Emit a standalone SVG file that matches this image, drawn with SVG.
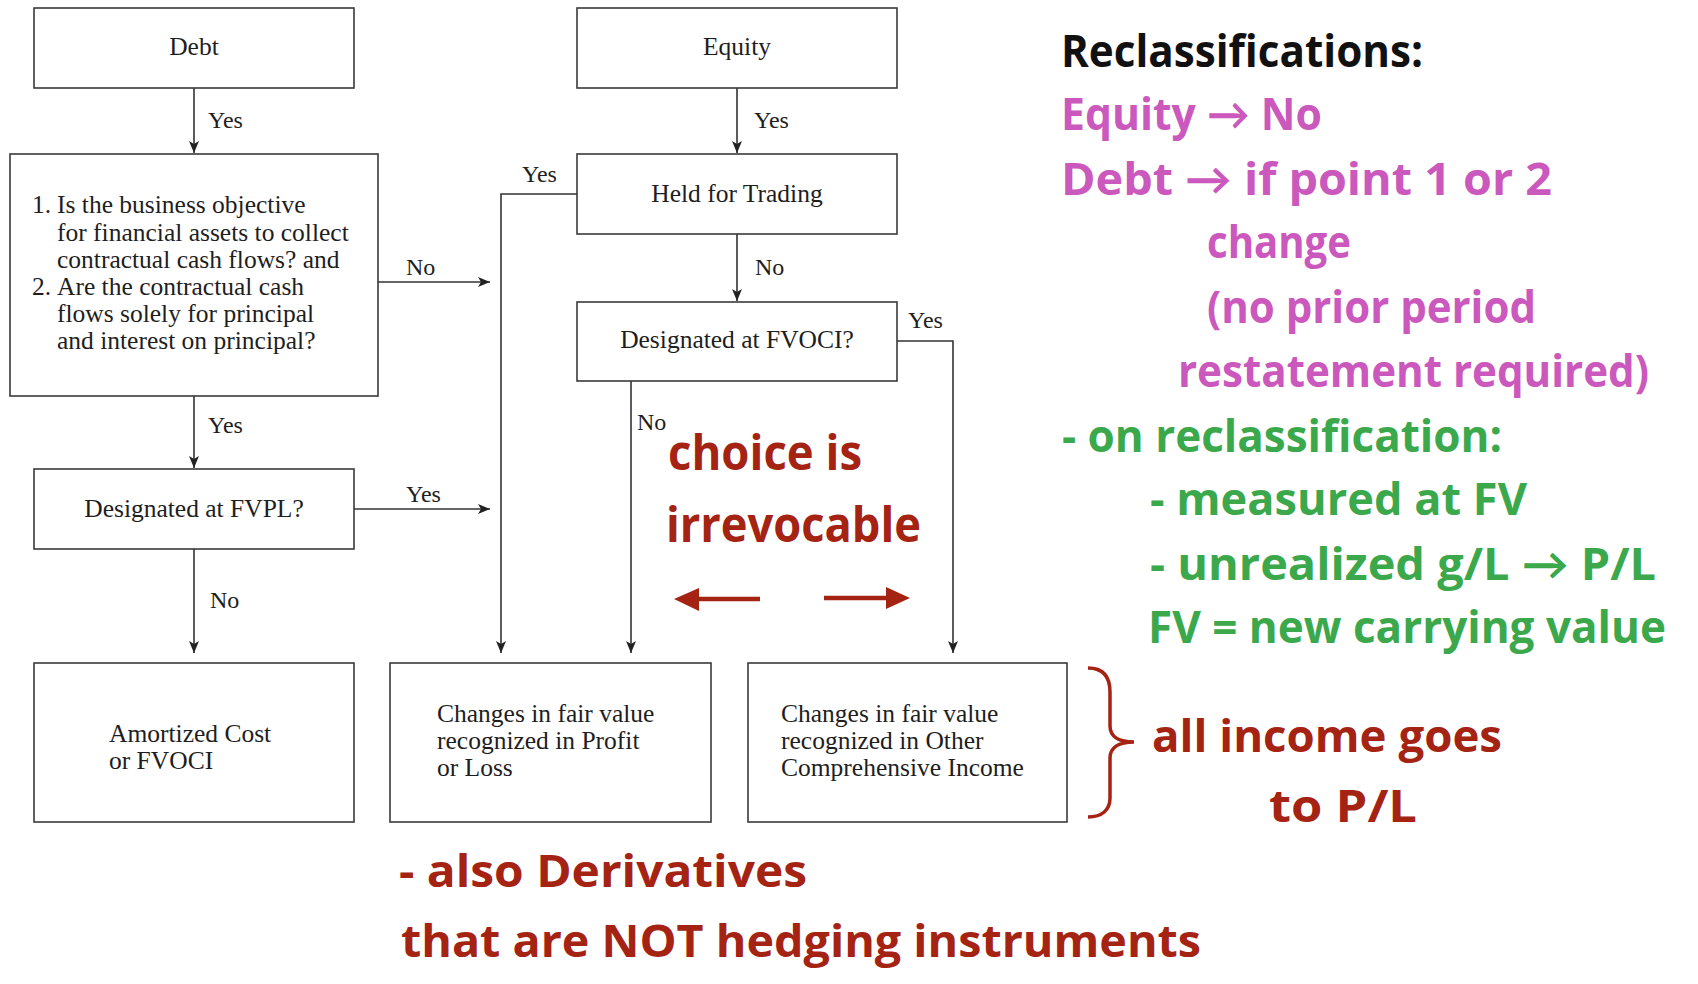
<svg xmlns="http://www.w3.org/2000/svg" width="1698" height="984" viewBox="0 0 1698 984">
<defs>
<style>
.box{fill:#fff;stroke:#3a3a3a;stroke-width:1.6}
.t{font-family:"Liberation Serif","Times New Roman",serif;font-size:25.5px;fill:#1e1e1e}
.lbl{font-family:"Liberation Serif","Times New Roman",serif;font-size:24px;fill:#1e1e1e}
.c{text-anchor:middle}
.conn{fill:none;stroke:#333;stroke-width:1.6}
.hw{font-family:"Open Sans","Lato","DejaVu Sans",sans-serif;font-weight:700;font-size:44px}
.blk{fill:#111}
.pink{fill:#CB58BC}
.green{fill:#3CA84C}
.red{fill:#A52313}
</style>
<marker id="ah" viewBox="0 0 12 10" refX="12" refY="5" markerWidth="12" markerHeight="10" markerUnits="userSpaceOnUse" orient="auto">
<path d="M0,0 L12,5 L0,10 L3,5 Z" fill="#222"/>
</marker>
</defs>
<rect width="1698" height="984" fill="#fff"/>

<g id="connectors">
<path class="conn" d="M194,88 V153" marker-end="url(#ah)"/>
<path class="conn" d="M194,396 V468" marker-end="url(#ah)"/>
<path class="conn" d="M194,549 V653" marker-end="url(#ah)"/>
<path class="conn" d="M378,282 H490" marker-end="url(#ah)"/>
<path class="conn" d="M354,509 H490" marker-end="url(#ah)"/>
<path class="conn" d="M577,194 H501 V653" marker-end="url(#ah)"/>
<path class="conn" d="M737,88 V153" marker-end="url(#ah)"/>
<path class="conn" d="M737,234 V301" marker-end="url(#ah)"/>
<path class="conn" d="M631,381 V653" marker-end="url(#ah)"/>
<path class="conn" d="M897,341 H953 V653" marker-end="url(#ah)"/>
<text class="lbl" x="208" y="128">Yes</text>
<text class="lbl" x="754" y="128">Yes</text>
<text class="lbl" x="522" y="182">Yes</text>
<text class="lbl" x="406" y="275">No</text>
<text class="lbl" x="755" y="275">No</text>
<text class="lbl" x="908" y="328">Yes</text>
<text class="lbl" x="208" y="433">Yes</text>
<text class="lbl" x="637" y="430">No</text>
<text class="lbl" x="406" y="502">Yes</text>
<text class="lbl" x="210" y="608">No</text>
</g>

<g id="debt">
<rect class="box" x="34" y="8" width="320" height="80"/>
<text class="t c" x="194" y="55">Debt</text>
</g>
<g id="equity">
<rect class="box" x="577" y="8" width="320" height="80"/>
<text class="t c" x="737" y="55">Equity</text>
</g>
<g id="question">
<rect class="box" x="10" y="154" width="368" height="242"/>
<text class="t" y="213"><tspan x="32">1.</tspan><tspan x="57">Is the business objective</tspan></text>
<text class="t" x="57" y="241">for financial assets to collect</text>
<text class="t" x="57" y="268">contractual cash flows? and</text>
<text class="t" y="295"><tspan x="32">2.</tspan><tspan x="57">Are the contractual cash</tspan></text>
<text class="t" x="57" y="322">flows solely for principal</text>
<text class="t" x="57" y="349">and interest on principal?</text>
</g>
<g id="held">
<rect class="box" x="577" y="154" width="320" height="80"/>
<text class="t c" x="737" y="202">Held for Trading</text>
</g>
<g id="fvoci-q">
<rect class="box" x="577" y="302" width="320" height="79"/>
<text class="t c" x="737" y="348">Designated at FVOCI?</text>
</g>
<g id="fvpl-q">
<rect class="box" x="34" y="469" width="320" height="80"/>
<text class="t c" x="194" y="517">Designated at FVPL?</text>
</g>
<g id="amortized">
<rect class="box" x="34" y="663" width="320" height="159"/>
<text class="t" x="109" y="742">Amortized Cost</text>
<text class="t" x="109" y="769">or FVOCI</text>
</g>
<g id="pl">
<rect class="box" x="390" y="663" width="321" height="159"/>
<text class="t" x="437" y="722">Changes in fair value</text>
<text class="t" x="437" y="749">recognized in Profit</text>
<text class="t" x="437" y="776">or Loss</text>
</g>
<g id="oci">
<rect class="box" x="748" y="663" width="319" height="159"/>
<text class="t" x="781" y="722">Changes in fair value</text>
<text class="t" x="781" y="749">recognized in Other</text>
<text class="t" x="781" y="776">Comprehensive Income</text>
</g>

<g id="notes">
<text class="hw blk" x="1061" y="67" textLength="362" lengthAdjust="spacingAndGlyphs">Reclassifications:</text>
<text class="hw pink" x="1061" y="130" textLength="261" lengthAdjust="spacingAndGlyphs">Equity → No</text>
<text class="hw pink" x="1061" y="195" textLength="491" lengthAdjust="spacingAndGlyphs">Debt → if point 1 or 2</text>
<text class="hw pink" x="1207" y="258" textLength="144" lengthAdjust="spacingAndGlyphs">change</text>
<text class="hw pink" x="1207" y="323" textLength="329" lengthAdjust="spacingAndGlyphs">(no prior period</text>
<text class="hw pink" x="1178" y="387" textLength="471" lengthAdjust="spacingAndGlyphs">restatement required)</text>
<text class="hw green" x="1062" y="452" textLength="440" lengthAdjust="spacingAndGlyphs">- on reclassification:</text>
<text class="hw green" x="1150" y="515" textLength="377" lengthAdjust="spacingAndGlyphs">- measured at FV</text>
<text class="hw green" x="1150" y="580" textLength="506" lengthAdjust="spacingAndGlyphs">- unrealized g/L → P/L</text>
<text class="hw green" x="1148" y="643" textLength="518" lengthAdjust="spacingAndGlyphs">FV = new carrying value</text>
<path d="M1088,668 C1104,668 1110,678 1110,692 L1110,726 C1110,736 1118,742 1134,742 C1118,742 1110,748 1110,758 L1110,798 C1110,810 1102,817 1088,817" fill="none" stroke="#A52313" stroke-width="3.5"/>
<text class="hw red" x="1152" y="752" textLength="350" lengthAdjust="spacingAndGlyphs">all income goes</text>
<text class="hw red" x="1269" y="822" textLength="148" lengthAdjust="spacingAndGlyphs">to P/L</text>
<text class="hw red" x="668" y="470" style="font-size:48px" textLength="194" lengthAdjust="spacingAndGlyphs">choice is</text>
<text class="hw red" x="666" y="542" style="font-size:48px" textLength="255" lengthAdjust="spacingAndGlyphs">irrevocable</text>
<path d="M760,599 H696" stroke="#A52313" stroke-width="4.5" fill="none"/>
<path d="M674,599 L699,588 L699,611 Z" fill="#A52313"/>
<path d="M824,598 H888" stroke="#A52313" stroke-width="4.5" fill="none"/>
<path d="M910,598 L886,587 L886,609 Z" fill="#A52313"/>
<text class="hw red" x="399" y="887" textLength="408" lengthAdjust="spacingAndGlyphs">- also Derivatives</text>
<text class="hw red" x="401" y="957" textLength="800" lengthAdjust="spacingAndGlyphs">that are NOT hedging instruments</text>
</g>
</svg>
